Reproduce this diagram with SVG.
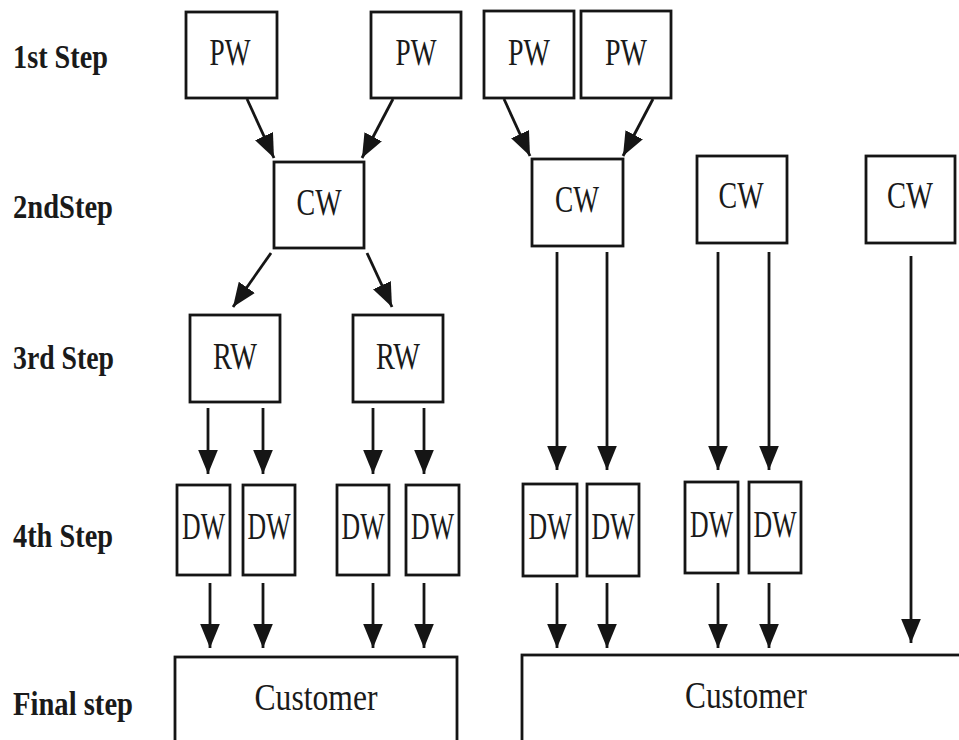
<svg xmlns="http://www.w3.org/2000/svg" width="959" height="740" viewBox="0 0 959 740">
  <defs>
    <marker id="arrow" markerUnits="userSpaceOnUse" markerWidth="24" markerHeight="20" viewBox="0 0 22 18" refX="22" refY="9" orient="auto">
      <path d="M0,0 L22,9 L0,18 Z" fill="#151515"/>
    </marker>
  </defs>
  <style>
    .box { fill: #ffffff; stroke: #151515; stroke-width: 2.8; }
    .lbl { font-family: "Liberation Serif", "Times New Roman", serif; font-size: 37px; fill: #1a1a1a; text-anchor: middle; }
    .step { font-family: "Liberation Serif", "Times New Roman", serif; font-size: 34px; font-weight: bold; fill: #1a1a1a; }
    .edge { stroke: #151515; stroke-width: 2.8; fill: none; marker-end: url(#arrow); }
  </style>
  <rect width="959" height="740" fill="#ffffff"/>

  <!-- step captions -->
  <g id="steps">
    <text class="step" x="13" y="68" textLength="95" lengthAdjust="spacingAndGlyphs">1st Step</text>
    <text class="step" x="13" y="218" textLength="100" lengthAdjust="spacingAndGlyphs">2ndStep</text>
    <text class="step" x="13" y="369" textLength="101" lengthAdjust="spacingAndGlyphs">3rd Step</text>
    <text class="step" x="13" y="547" textLength="100" lengthAdjust="spacingAndGlyphs">4th Step</text>
    <text class="step" x="13" y="715" textLength="120" lengthAdjust="spacingAndGlyphs">Final step</text>
  </g>

  <!-- 1st step: PW -->
  <g id="pw1"><rect class="box" x="186" y="12" width="91" height="86"/><text class="lbl" x="230" y="65" textLength="41" lengthAdjust="spacingAndGlyphs">PW</text></g>
  <g id="pw2"><rect class="box" x="371" y="12" width="90" height="86"/><text class="lbl" x="416" y="65" textLength="41" lengthAdjust="spacingAndGlyphs">PW</text></g>
  <g id="pw3"><rect class="box" x="484" y="11" width="90" height="87"/><text class="lbl" x="529" y="65" textLength="42" lengthAdjust="spacingAndGlyphs">PW</text></g>
  <g id="pw4"><rect class="box" x="581" y="11" width="90" height="87"/><text class="lbl" x="626" y="65" textLength="42" lengthAdjust="spacingAndGlyphs">PW</text></g>

  <!-- 2nd step: CW -->
  <g id="cw1"><rect class="box" x="274" y="162" width="90" height="86"/><text class="lbl" x="319" y="215" textLength="45" lengthAdjust="spacingAndGlyphs">CW</text></g>
  <g id="cw2"><rect class="box" x="532" y="159" width="91" height="87"/><text class="lbl" x="577" y="212" textLength="44" lengthAdjust="spacingAndGlyphs">CW</text></g>
  <g id="cw3"><rect class="box" x="697" y="156" width="90" height="87"/><text class="lbl" x="741" y="208" textLength="45" lengthAdjust="spacingAndGlyphs">CW</text></g>
  <g id="cw4"><rect class="box" x="866" y="156" width="89" height="87"/><text class="lbl" x="910" y="208" textLength="46" lengthAdjust="spacingAndGlyphs">CW</text></g>

  <!-- 3rd step: RW -->
  <g id="rw1"><rect class="box" x="190" y="315" width="90" height="87"/><text class="lbl" x="235" y="369" textLength="44" lengthAdjust="spacingAndGlyphs">RW</text></g>
  <g id="rw2"><rect class="box" x="353" y="315" width="90" height="87"/><text class="lbl" x="398" y="369" textLength="44" lengthAdjust="spacingAndGlyphs">RW</text></g>

  <!-- 4th step: DW -->
  <g id="dw1"><rect class="box" x="177" y="485" width="53" height="90"/><text class="lbl" x="203.5" y="539" textLength="43" lengthAdjust="spacingAndGlyphs">DW</text></g>
  <g id="dw2"><rect class="box" x="243" y="485" width="52" height="90"/><text class="lbl" x="269" y="539" textLength="43" lengthAdjust="spacingAndGlyphs">DW</text></g>
  <g id="dw3"><rect class="box" x="337" y="485" width="52" height="90"/><text class="lbl" x="363" y="539" textLength="43" lengthAdjust="spacingAndGlyphs">DW</text></g>
  <g id="dw4"><rect class="box" x="406" y="485" width="53" height="90"/><text class="lbl" x="432.5" y="539" textLength="43" lengthAdjust="spacingAndGlyphs">DW</text></g>
  <g id="dw5"><rect class="box" x="523" y="484" width="54" height="92"/><text class="lbl" x="550" y="539" textLength="43" lengthAdjust="spacingAndGlyphs">DW</text></g>
  <g id="dw6"><rect class="box" x="587" y="484" width="52" height="92"/><text class="lbl" x="613" y="539" textLength="43" lengthAdjust="spacingAndGlyphs">DW</text></g>
  <g id="dw7"><rect class="box" x="685" y="482" width="53" height="91"/><text class="lbl" x="711.5" y="537" textLength="43" lengthAdjust="spacingAndGlyphs">DW</text></g>
  <g id="dw8"><rect class="box" x="749" y="482" width="52" height="91"/><text class="lbl" x="775" y="537" textLength="43" lengthAdjust="spacingAndGlyphs">DW</text></g>

  <!-- final step: customers -->
  <g id="customer1"><rect class="box" x="175" y="657" width="282" height="100"/><text class="lbl" x="316" y="710" textLength="123" lengthAdjust="spacingAndGlyphs">Customer</text></g>
  <g id="customer2"><rect class="box" x="522" y="655" width="460" height="100"/><text class="lbl" x="746" y="708" textLength="122" lengthAdjust="spacingAndGlyphs">Customer</text></g>

  <!-- connectors -->
  <g id="connectors">
    <line class="edge" x1="247" y1="99" x2="274" y2="158"/>
    <line class="edge" x1="393" y1="99" x2="362" y2="158"/>
    <line class="edge" x1="504" y1="99" x2="530" y2="156"/>
    <line class="edge" x1="653" y1="99" x2="623" y2="156"/>

    <line class="edge" x1="271" y1="253" x2="233" y2="307"/>
    <line class="edge" x1="367" y1="253" x2="392" y2="307"/>

    <line class="edge" x1="557" y1="252" x2="557" y2="470"/>
    <line class="edge" x1="607" y1="252" x2="607" y2="470"/>
    <line class="edge" x1="718" y1="252" x2="718" y2="470"/>
    <line class="edge" x1="769" y1="252" x2="769" y2="470"/>
    <line class="edge" x1="911" y1="256" x2="911" y2="643"/>

    <line class="edge" x1="208" y1="408" x2="208" y2="474"/>
    <line class="edge" x1="263" y1="408" x2="263" y2="474"/>
    <line class="edge" x1="373" y1="408" x2="373" y2="474"/>
    <line class="edge" x1="424" y1="408" x2="424" y2="474"/>

    <line class="edge" x1="210" y1="583" x2="210" y2="648"/>
    <line class="edge" x1="263" y1="583" x2="263" y2="648"/>
    <line class="edge" x1="373" y1="583" x2="373" y2="648"/>
    <line class="edge" x1="424" y1="583" x2="424" y2="648"/>
    <line class="edge" x1="557" y1="583" x2="557" y2="648"/>
    <line class="edge" x1="607" y1="583" x2="607" y2="648"/>
    <line class="edge" x1="718" y1="583" x2="718" y2="648"/>
    <line class="edge" x1="769" y1="583" x2="769" y2="648"/>
  </g>
</svg>
